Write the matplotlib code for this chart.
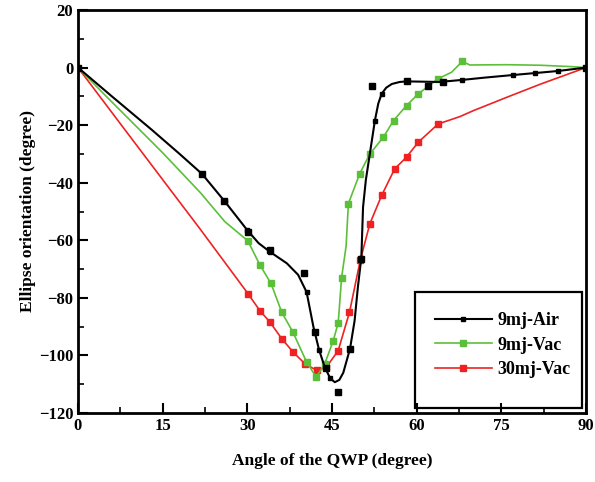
import matplotlib
matplotlib.use("Agg")
import matplotlib.pyplot as plt
from matplotlib.patches import Rectangle
from matplotlib.ticker import MultipleLocator

plt.rcParams['font.family'] = ['Liberation Serif', 'DejaVu Serif']
plt.rcParams['font.weight'] = 'bold'

# 9mj-Air: fitted curve
air_fit_x = [0, 6, 13, 18, 22, 26, 30, 32, 34, 37, 39, 40.5, 41.7, 42.7, 43.7, 44.7, 45.5, 46.3, 47,
             48.2, 49, 49.6, 50.2, 50.5, 51, 51.7, 52.6, 53.2, 53.8, 54.6, 55.6, 57, 58.2, 64, 68,
             72, 77, 81, 85, 90]
air_fit_y = [0, -10, -21.5, -30, -37, -46.5, -56.5, -61, -64, -68, -72, -78, -90, -98, -104, -108,
             -109.3, -108.5, -106, -97.6, -88, -76, -66, -48.5, -39, -30, -18.4, -12.5, -9.1, -7,
             -5.7, -5.0, -4.8, -5.0, -4.3, -3.5, -2.6, -1.9, -1.2, 0]
# 9mj-Air: measured points
air_x = [0, 22, 25.9, 30.1, 34.1, 40, 42, 44, 46.1, 48.2, 50.1, 52, 58.2, 62, 64.7, 90]
air_y = [0, -36.8, -46.4, -57.2, -63.5, -71.5, -92, -104.5, -112.7, -97.6, -66.5, -6.3, -4.5,
         -6.3, -5.1, 0]

# 9mj-Vac
vac9_x = [0, 5, 10, 15, 21.7, 26, 30.1, 32.2, 34.2, 36.1, 38.1, 40.5, 42.2, 43.7, 45.2, 46.1, 46.7,
          47.5, 47.9, 49.9, 51.7, 54.1, 55.9, 58.2, 60.3, 63.8, 66.2, 68.1, 69.4, 76, 82, 87.7, 90]
vac9_y = [0, -10, -19.8, -29.6, -43.5, -53.5, -60.2, -68.5, -75, -85, -92, -102.3, -107.5, -103,
          -95, -88.7, -73, -62, -47.3, -36.9, -30, -24.2, -18.4, -13.2, -9.1, -3.9, -1.6, 2.2,
          0.9, 1.0, 0.8, 0.3, 0]

# 30mj-Vac
vac30_x = [0, 8, 16.3, 21.6, 28.1, 30.1, 32.2, 34, 36.1, 38.1, 40.2, 42.3, 44, 46.1, 48.1, 50,
           51.7, 53.8, 56.1, 58.2, 60.3, 63.8, 67.7, 70, 76, 82, 90]
vac30_y = [0, -20.8, -42.3, -56, -73.2, -78.5, -84.4, -88.4, -94.2, -98.8, -102.9, -105.2, -104.1,
           -98.3, -85, -67, -54.3, -44.4, -35.2, -31.1, -25.9, -19.6, -17, -15, -10.3, -5.7, 0]

labels = ['9mj-Air', '9mj-Vac', '30mj-Vac']
x_ticks = [0, 15, 30, 45, 60, 75, 90]
y_ticks = [20, 0, -20, -40, -60, -80, -100, -120]

fig = plt.figure(figsize=(5.95, 4.82), dpi=100)
ax = fig.add_axes([78/595, 69/482, 508/595, 403/482])

green = '#5cbf3a'
red = '#ee2222'

ax.plot(vac30_x, vac30_y, color=red, lw=1.2, marker='s', ms=4.5,
        markevery=[5, 6, 7, 8, 9, 10, 11, 12, 13, 14, 15, 16, 17, 18, 19, 20, 21], label=labels[2])
ax.plot(vac9_x, vac9_y, color=green, lw=1.2, marker='s', ms=4.5,
        markevery=[6, 7, 8, 9, 10, 11, 12, 13, 14, 15, 16, 18, 19, 20, 21, 22, 23, 24, 25, 27],
        label=labels[1])
ax.plot(air_fit_x, air_fit_y, color='black', lw=1.5, marker='s', ms=3,
        markevery=[4, 5, 6, 8, 11, 13, 15, 19, 22, 26, 28, 34, 36, 37, 38], label=labels[0])
ax.plot(air_x, air_y, ls='none', color='black', marker='s', ms=4.5)

ax.set_xlim(0, 90)
ax.set_ylim(-120, 20)
ax.set_xticks(x_ticks)
ax.set_yticks(y_ticks)
ax.xaxis.set_minor_locator(MultipleLocator(7.5))
ax.yaxis.set_minor_locator(MultipleLocator(10))
ax.tick_params(which='major', direction='in', length=7, width=1.5, labelsize=12)
ax.tick_params(which='minor', direction='in', length=4, width=1.2)
for lab in ax.get_xticklabels() + ax.get_yticklabels():
    lab.set_fontweight('bold')
for s in ax.spines.values():
    s.set_linewidth(2)

ax.set_xlabel('Angle of the QWP (degree)', fontsize=12.5, fontweight='bold', labelpad=14)
ax.set_ylabel('Ellipse orientation (degree)', fontsize=12.5, fontweight='bold', labelpad=2)

# legend frame
ax.add_patch(Rectangle((0.663, 0.012), 0.329, 0.288, transform=ax.transAxes, fill=False,
                       lw=1.6, edgecolor='black', zorder=5))
h, l = ax.get_legend_handles_labels()
order = [2, 1, 0]
leg = ax.legend([h[i] for i in order], [l[i] for i in order], loc='upper left',
                bbox_to_anchor=(0.67, 0.29), frameon=False,
                handlelength=3.2, handletextpad=0.3, labelspacing=0.4,
                prop={'family': 'Liberation Serif', 'weight': 'bold', 'size': 13})

fig.savefig('out.png', dpi=100)
